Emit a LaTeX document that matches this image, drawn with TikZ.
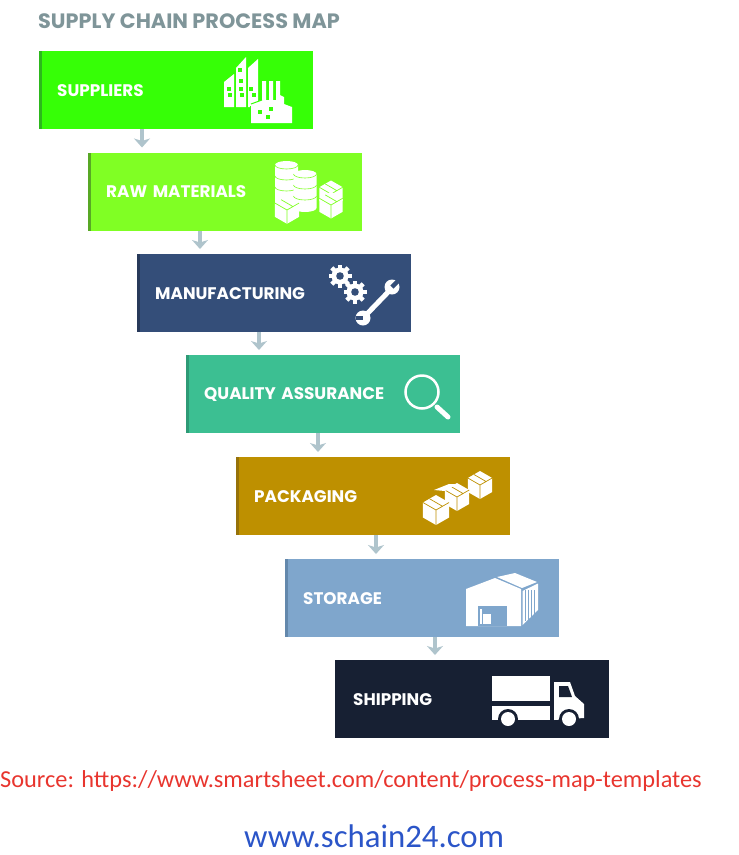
\documentclass[tikz,border=0pt]{standalone}
\usepackage{fontspec}
\setmainfont{Poppins}
\newfontfamily\srcfont{Carlito}
\usetikzlibrary{arrows.meta}
\definecolor{cSup}{HTML}{36FF06}\definecolor{sSup}{HTML}{2CB81C}
\definecolor{cRaw}{HTML}{80FF24}\definecolor{sRaw}{HTML}{58A825}
\definecolor{cMan}{HTML}{344E79}\definecolor{sMan}{HTML}{27395A}
\definecolor{cQua}{HTML}{3CBF92}\definecolor{sQua}{HTML}{2E9A76}
\definecolor{cPac}{HTML}{BE9000}\definecolor{sPac}{HTML}{96720A}
\definecolor{cSto}{HTML}{7FA6CC}\definecolor{sSto}{HTML}{6388AC}
\definecolor{cShi}{HTML}{172033}\definecolor{sShi}{HTML}{101726}
\definecolor{cArr}{HTML}{AFC4CC}\definecolor{cTit}{HTML}{7F9599}
\definecolor{cRed}{HTML}{E8352E}\definecolor{cBlu}{HTML}{2B55C8}
\tikzset{
  stage/.style={anchor=north west,minimum width=273.5pt,minimum height=78pt,inner sep=0pt,
    text width=237.5pt,align=left,text=white,font=\fontsize{16.8}{18}\selectfont\bfseries,
    fill=#1},
  flow/.style={draw=cArr,line width=3.5pt,-{Stealth[inset=2.5pt,length=9pt,width=16pt]},shorten >=5pt},
  ic/.style={fill=white,draw=none}
}
% isometric crate: centre x,y, radius, line colour
\newcommand{\crate}[4]{%
  \fill[white] (#1,#2-#3) -- (#1+.87*#3,#2-.5*#3) -- (#1+.87*#3,#2+.5*#3) -- (#1,#2+#3)
     -- (#1-.87*#3,#2+.5*#3) -- (#1-.87*#3,#2-.5*#3) -- cycle;
  \draw[#4,line width=.7pt] (#1-.87*#3,#2-.5*#3) -- (#1,#2) -- (#1+.87*#3,#2-.5*#3) (#1,#2) -- (#1,#2+#3)
     (#1-.43*#3,#2-.75*#3) -- (#1+.43*#3,#2-.25*#3);}
% stack of drums: x, top y, half width, bottom y
\newcommand{\drum}[4]{%
  \fill[white] (#1-#3,#2+4) arc[start angle=180,end angle=0,x radius=#3pt,y radius=4pt]
     -- (#1+#3,#4-4) arc[start angle=0,end angle=-180,x radius=#3pt,y radius=4pt] -- cycle;
  \draw[cRaw,line width=.6pt] (#1-#3,#2+4) arc[start angle=180,end angle=360,x radius=#3pt,y radius=4pt];
  \draw[cRaw,line width=.6pt] (#1-#3,#2+15) arc[start angle=180,end angle=360,x radius=#3pt,y radius=4pt];
  \draw[cRaw,line width=.6pt] (#1-#3,#2+26) arc[start angle=180,end angle=360,x radius=#3pt,y radius=4pt];}
\newcommand{\gearic}[2]{%
  \fill[white] (#1,#2) circle[radius=8.5pt];
  \foreach \a in {0,45,...,315}
    \fill[white,shift={(#1,#2)},rotate=\a] (-2.2,-11.5) rectangle (2.2,0);
  \fill[cMan] (#1,#2) circle[radius=3.8pt];}
\begin{document}
\begin{tikzpicture}[x=1pt,y=-1pt]
\useasboundingbox (0,0) rectangle (739,855);
\node[anchor=west,text=cTit,inner sep=0pt,font=\fontsize{20.8}{23}\selectfont\bfseries] (title) at (38,21) {SUPPLY CHAIN PROCESS MAP};
\node[stage=cSup] (sup) at (39,51) {SUPPLIERS};
\node[stage=cRaw] (raw) at (88,152.5) {RAW MATERIALS};
\node[stage=cMan] (man) at (137,254) {MANUFACTURING};
\node[stage=cQua] (qua) at (186,355) {QUALITY ASSURANCE};
\node[stage=cPac] (pac) at (236,457) {PACKAGING};
\node[stage=cSto] (sto) at (285,559) {STORAGE};
\node[stage=cShi] (shi) at (335,660) {SHIPPING};
\foreach \n/\c in {sup/sSup,raw/sRaw,man/sMan,qua/sQua,pac/sPac,sto/sSto}
  \fill[\c] (\n.south west) rectangle ([xshift=3pt]\n.north west);
\draw[flow] ([xshift=103pt]sup.south west) -- ([xshift=54pt]raw.north west);
\draw[flow] ([xshift=112pt]raw.south west) -- ([xshift=63pt]man.north west);
\draw[flow] ([xshift=122pt]man.south west) -- ([xshift=73pt]qua.north west);
\draw[flow] ([xshift=132pt]qua.south west) -- ([xshift=82pt]pac.north west);
\draw[flow] ([xshift=140pt]pac.south west) -- ([xshift=91pt]sto.north west);
\draw[flow] ([xshift=150pt]sto.south west) -- ([xshift=100pt]shi.north west);
% --- suppliers icon
\fill[ic] (224,82) -- (234,74) -- (234,107) -- (224,107) -- cycle;
\fill[ic] (236,68) -- (246,57) -- (246,107) -- (236,107) -- cycle;
\fill[ic] (248,68) -- (258,59) -- (258,107) -- (248,107) -- cycle;
\fill[cSup] (250,106) rectangle (256,109);
\fill[ic] (251,123) -- (251,104) -- (262,100) -- (262,81) -- (266,81) -- (266,100) -- (269,100) -- (269,81) -- (273,81) -- (273,100)
   -- (276,100) -- (276,81) -- (280,81) -- (280,95) -- (284,97) -- (284,104) -- (292,107) -- (292,123) -- cycle;
\draw[cSup,line width=1pt] (251,104) -- (262,100);
\foreach \x/\y in {229/89,240/70,241/81,241/89,251/89,230/95,242/95,254/95}
  \fill[cSup] (\x-1.6,\y-1.6) rectangle (\x+1.6,\y+1.6);
\foreach \x/\y in {260/112,271/109,268/117}
  \fill[cSup] (\x-2,\y-2) rectangle (\x+2,\y+2);
% --- raw materials icon
\drum{286.5}{161}{11.5}{211}
\drum{305}{170}{11.5}{212}
\crate{331}{194}{13.5}{cRaw}
\crate{331}{205}{13.5}{cRaw}
\crate{287}{210}{13.8}{cRaw}
% --- manufacturing icon
\gearic{340}{276}
\gearic{355}{292}
\draw[white,line width=5pt] (365,316) -- (392,288);
\fill[white] (363,318) circle[radius=7.5pt] (392,287) circle[radius=7.5pt];
\draw[cMan,line width=4.5pt] (356,318) -- (363,318);
\draw[cMan,line width=4.5pt] (392,287) -- (399,280);
% --- quality icon
\draw[white,line width=2.5pt] (422,392) circle[radius=16.5pt];
\draw[white,line width=5pt,line cap=round] (437,407) -- (448,417);
% --- packaging icon
\crate{480}{485}{14}{cPac}
\crate{457}{497}{14}{cPac}
\fill[white] (434,490) -- (449,484) -- (458,484) -- (445,491) -- cycle;
\crate{436}{510}{15}{cPac}
% --- storage icon
\fill[ic] (466,589) -- (495,578) -- (521,589) -- (521,626) -- (466,626) -- cycle;
\fill[ic] (497,577) -- (515,573) -- (537,582) -- (522,588) -- cycle;
\fill[ic] (522.5,591) -- (538,583.5) -- (538,610) -- (522.5,625) -- cycle;
\foreach \x in {525,528,531,534}
  \draw[cSto,line width=.7pt] (\x,590) -- (\x,621-\x/20+26);
\fill[cSto] (478,606) rectangle (507,626);
\fill[white] (483,614) rectangle (491,624);
\fill[white] (480,609) rectangle (482,624);
% --- shipping icon
\fill[ic] (492,676) rectangle (550,701);
\fill[ic] (492,706) rectangle (550,720);
\fill[ic] (554,682) -- (570,682) -- (575,696) -- (584,704) -- (584,718) -- (554,720) -- cycle;
\fill[cShi] (559,686) -- (568,686) -- (572,697) -- (559,697) -- cycle;
\foreach \x in {508,569} {
  \fill[cShi] (\x,719) circle[radius=10pt];
  \fill[white] (\x,719) circle[radius=7pt];}
% --- captions
\node[anchor=west,text=cRed,inner sep=0pt,font=\srcfont\fontsize{24.35}{27}\selectfont] (src) at (0,781) {Source: https://www.smartsheet.com/content/process-map-templates};
\node[anchor=west,text=cBlu,inner sep=0pt,font=\srcfont\fontsize{32.8}{36}\selectfont] (web) at (244,836) {www.schain24.com};
\end{tikzpicture}
\end{document}
